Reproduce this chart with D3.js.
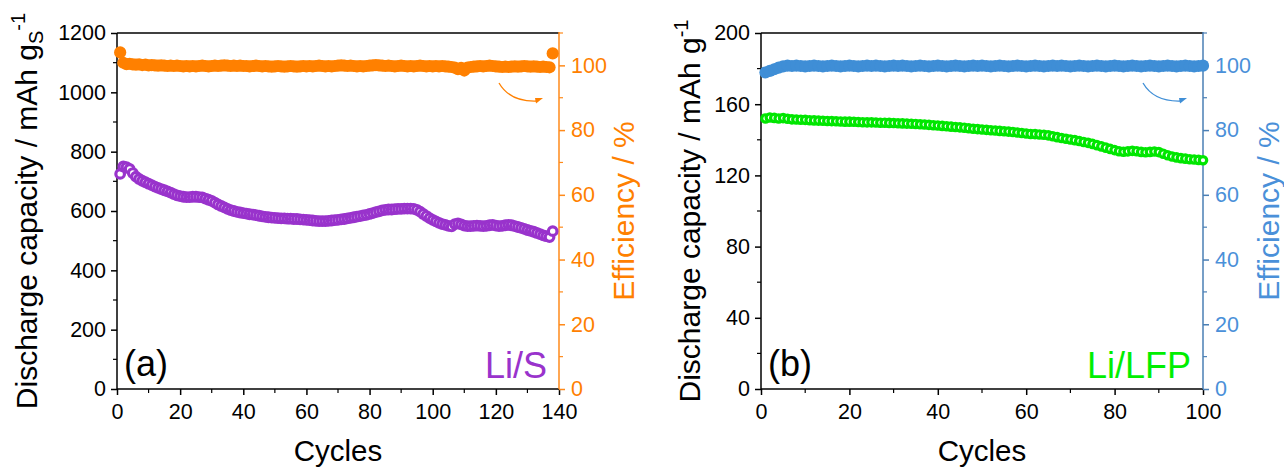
<!DOCTYPE html>
<html><head><meta charset="utf-8">
<script src="https://cdn.jsdelivr.net/npm/d3@7"></script>
<style>
html,body{margin:0;padding:0;background:#fff;}
svg{display:block;font-family:"Liberation Sans",Arial,sans-serif;}
</style></head>
<body><svg id="c" width="1284" height="468"></svg>
<script>
// ---- Data ----
const lisCapacity = [
725,750,748,742,728,716,708,702,697,692,
687,682,678,674,670,666,662,657,653,650,
648,647,647,648,648,647,646,642,638,634,
628,622,617,612,607,603,600,597,595,593,
591,589,588,586,584,582,580,579,578,577,
576,575,575,574,574,573,573,572,571,570,
569,568,567,566,566,566,567,568,569,570,
572,573,575,577,579,581,583,585,587,590,
593,596,599,602,604,605,605,606,607,607,
608,608,608,607,604,598,590,583,576,570,
565,560,556,553,550,548,556,558,555,551,
549,549,550,551,550,549,550,552,553,551,
549,550,552,553,552,549,546,543,540,536,
533,530,526,522,518,515,512,532];
const lisEfficiency = [
104.0,100.8,100.4,100.5,100.3,100.2,100.3,100.1,100.2,100.0,
100.1,100.0,99.9,100.0,99.9,99.8,99.9,99.8,99.9,99.8,
99.7,99.8,99.7,99.8,99.7,99.8,99.9,99.8,99.7,99.8,
99.9,99.8,99.9,100.0,99.9,99.8,99.9,99.8,99.9,99.8,
99.8,99.7,99.8,99.9,99.8,99.7,99.8,99.7,99.6,99.7,
99.8,99.7,99.6,99.7,99.8,99.7,99.6,99.7,99.8,99.7,
99.8,99.7,99.8,99.9,99.8,99.7,99.8,99.7,99.8,99.9,
100.0,99.9,99.8,99.9,99.8,99.7,99.8,99.7,99.8,99.9,
100.0,100.1,100.0,99.9,99.8,99.9,99.8,99.7,99.8,99.9,
99.8,99.7,99.8,99.7,99.8,99.9,99.8,99.7,99.8,99.7,
99.8,99.7,99.8,99.7,99.6,99.5,99.3,98.8,99.2,98.4,
99.3,99.5,99.6,99.7,99.8,99.7,99.8,99.9,99.8,99.7,
99.6,99.5,99.6,99.5,99.6,99.7,99.6,99.7,99.8,99.7,
99.6,99.7,99.6,99.5,99.6,99.5,99.4,103.7];
const lfpCapacity = [
152.0,152.5,152.3,152.0,152.2,151.8,151.5,151.4,151.3,151.2,
151.0,150.9,150.8,150.7,150.6,150.5,150.4,150.3,150.2,150.2,
150.1,150.0,149.9,149.8,149.8,149.7,149.6,149.6,149.5,149.4,
149.3,149.2,149.1,149.0,148.9,148.7,148.6,148.4,148.2,148.0,
147.8,147.6,147.4,147.2,147.0,146.8,146.5,146.2,146.0,145.8,
145.6,145.4,145.2,145.0,144.8,144.6,144.4,144.1,143.8,143.5,
143.3,143.2,143.0,142.8,142.5,142.0,141.5,141.0,140.6,140.2,
139.8,139.3,138.8,138.3,137.7,137.0,136.3,135.6,134.9,134.2,
133.6,133.3,133.5,133.8,133.6,133.2,133.0,133.2,133.4,133.1,
132.2,131.3,130.6,130.1,129.7,129.4,129.1,128.9,128.7,128.5];
const lfpEfficiency = [
97.8,98.3,98.8,99.3,99.7,99.9,99.8,99.9,99.8,99.7,
99.8,99.9,99.8,99.7,99.8,99.9,99.8,99.7,99.8,99.9,
99.8,99.7,99.8,99.9,99.8,99.9,99.8,99.7,99.8,99.9,
99.8,99.9,99.8,99.7,99.8,99.9,99.8,99.7,99.8,99.9,
99.8,99.7,99.8,99.9,99.8,99.7,99.8,99.9,99.8,99.9,
99.8,99.7,99.8,99.9,99.8,99.7,99.8,99.9,99.8,99.7,
99.8,99.9,99.8,99.7,99.8,99.9,99.8,99.9,99.8,99.7,
99.8,99.9,99.8,99.7,99.8,99.9,99.8,99.7,99.8,99.9,
99.8,99.7,99.8,99.9,99.8,99.7,99.8,99.9,99.8,99.7,
99.8,99.9,99.8,99.7,99.8,99.9,99.8,99.7,99.8,99.9];
const lisCycles = lisCapacity.map((d,i)=>i+1);
const lfpCycles = lfpCapacity.map((d,i)=>i+1);
const xTicksA = [0,20,40,60,80,100,120,140];
const yTicksA = [0,200,400,600,800,1000,1200];
const xTicksB = [0,20,40,60,80,100];
const yTicksB = [0,40,80,120,160,200];
const effTicks = [0,20,40,60,80,100];

const svg = d3.select("#c");
const FONT = '"Liberation Sans",Arial,sans-serif';

function panel(o){
  const g = svg.append("g");
  const x = d3.scaleLinear().domain(o.xDomain).range([o.left,o.right]);
  const y = d3.scaleLinear().domain(o.yDomain).range([o.bottom,o.top]);
  const y2 = d3.scaleLinear().domain([0,110]).range([o.bottom,o.top]);

  // top border
  g.append("line").attr("x1",o.left).attr("x2",o.right).attr("y1",o.top).attr("y2",o.top)
    .attr("stroke","#000").attr("stroke-width",1.5);

  // minor ticks
  const xMinor = d3.range(o.xDomain[0]+o.xMinorStep, o.xDomain[1], o.xMinorStep*2);
  g.selectAll(".xm").data(xMinor).enter().append("line")
    .attr("x1",d=>x(d)).attr("x2",d=>x(d)).attr("y1",o.bottom).attr("y2",o.bottom+4)
    .attr("stroke","#000").attr("stroke-width",1.2);
  const yMinor = d3.range(o.yDomain[0]+o.yMinorStep, o.yDomain[1], o.yMinorStep*2);
  g.selectAll(".ym").data(yMinor).enter().append("line")
    .attr("x1",o.left-4).attr("x2",o.left).attr("y1",d=>y(d)).attr("y2",d=>y(d))
    .attr("stroke","#000").attr("stroke-width",1.2);
  const eMinor = [10,30,50,70,90];
  g.selectAll(".em").data(eMinor).enter().append("line")
    .attr("x1",o.right).attr("x2",o.right+4).attr("y1",d=>y2(d)).attr("y2",d=>y2(d))
    .attr("stroke",o.effAxis).attr("stroke-width",1.2);
  g.append("line").attr("x1",o.right).attr("x2",o.right+4).attr("y1",y2(110)).attr("y2",y2(110))
    .attr("stroke",o.effAxis).attr("stroke-width",1.2);

  // axes
  const xa = g.append("g").attr("transform",`translate(0,${o.bottom})`)
    .call(d3.axisBottom(x).tickValues(o.xTicks).tickSize(6).tickPadding(9).tickFormat(d3.format("d")));
  const ya = g.append("g").attr("transform",`translate(${o.left},0)`)
    .call(d3.axisLeft(y).tickValues(o.yTicks).tickSize(6).tickPadding(5).tickFormat(d3.format("d")));
  const ea = g.append("g").attr("transform",`translate(${o.right},0)`)
    .call(d3.axisRight(y2).tickValues(effTicks).tickSize(6).tickPadding(6).tickFormat(d3.format("d")));
  [xa,ya].forEach(a=>{
    a.select(".domain").attr("stroke","#000").attr("stroke-width",1.5);
    a.selectAll(".tick line").attr("stroke","#000").attr("stroke-width",1.5);
    a.selectAll("text").attr("fill","#000").style("font-family",FONT).style("font-size","21.5px");
  });
  ya.select(".domain").attr("d",`M0,${o.bottom}V${o.top}`);
  xa.select(".domain").attr("d",`M0,0H${o.right-o.left}`).attr("transform",`translate(${o.left},0)`);
  ea.select(".domain").attr("stroke",o.effAxis).attr("stroke-width",1.5).attr("d",`M0,${o.bottom}V${o.top-1}`);
  ea.selectAll(".tick line").attr("stroke",o.effAxis).attr("stroke-width",1.5);
  ea.selectAll("text").attr("fill",o.effText).style("font-family",FONT).style("font-size","21.5px");

  // efficiency markers
  g.append("g").selectAll("circle").data(o.eff).enter().append("circle")
    .attr("cx",(d,i)=>x(o.cycles[i])).attr("cy",d=>y2(d)).attr("r",6.1)
    .attr("fill",o.effColor);
  // capacity markers
  g.append("g").selectAll("circle").data(o.cap).enter().append("circle")
    .attr("cx",(d,i)=>x(o.cycles[i])).attr("cy",d=>y(d)).attr("r",o.capR)
    .attr("fill","#fff").attr("stroke",o.capColor).attr("stroke-width",3.2);

  // curved arrow
  const ax0 = o.arrow[0], ay0 = o.arrow[1], ax1 = o.arrow[2], ay1 = o.arrow[3];
  g.append("path").attr("d",`M${ax0},${ay0} Q${ax0+11},${ay1+1} ${ax1-6},${ay1}`)
    .attr("fill","none").attr("stroke",o.effColor).attr("stroke-width",1.3);
  g.append("path").attr("d",`M${ax1},${ay1-3} L${ax1-8},${ay1-3} L${ax1-7},${ay1+2.5} Z`)
    .attr("fill",o.effColor);

  // titles
  g.append("text").attr("x",(o.left+o.right)/2).attr("y",461).attr("text-anchor","middle")
    .style("font-family",FONT).style("font-size","29.5px").attr("fill","#000").text("Cycles");
  const lt = g.append("text").attr("transform",`translate(${o.ltX},${(o.top+o.bottom)/2}) rotate(-90)`)
    .attr("text-anchor","middle").style("font-family",FONT).style("font-size","30px").attr("fill","#000");
  lt.append("tspan").text("Discharge capacity / mAh g");
  if(o.sub){
    lt.append("tspan").attr("dy",6).style("font-size","20px").text(o.sub);
    lt.append("tspan").attr("dy",-18).style("font-size","20px").text("-1");
  } else {
    lt.append("tspan").attr("dy",-12).style("font-size","20px").text("-1");
  }
  g.append("text").attr("transform",`translate(${o.rtX},${(o.top+o.bottom)/2}) rotate(-90)`)
    .attr("text-anchor","middle").style("font-family",FONT).style("font-size","30px")
    .attr("fill",o.effText).text("Efficiency / %");
  g.append("text").attr("x",o.left+7).attr("y",376).style("font-family",FONT).style("font-size","36px")
    .attr("fill","#000").text(o.label);
  g.append("text").attr("x",o.right-12).attr("y",378).attr("text-anchor","end")
    .style("font-family",FONT).style("font-size","36px").attr("fill",o.nameColor).text(o.name);
}

panel({left:117,right:559,top:33,bottom:389,xDomain:[0,140],yDomain:[0,1200],
  xTicks:xTicksA,yTicks:yTicksA,xMinorStep:10,yMinorStep:100,
  cycles:lisCycles,cap:lisCapacity,eff:lisEfficiency,capR:4.3,
  capColor:"#9933CC",effColor:"#FF8000",effAxis:"#FF8A1A",effText:"#FF8000",nameColor:"#9933CC",
  ltX:37,rtX:634,sub:"S",label:"(a)",name:"Li/S",arrow:[499,83,543,101]});
panel({left:761,right:1203,top:33,bottom:389,xDomain:[0,100],yDomain:[0,200],
  xTicks:xTicksB,yTicks:yTicksB,xMinorStep:10,yMinorStep:20,
  cycles:lfpCycles,cap:lfpCapacity,eff:lfpEfficiency,capR:3.7,
  capColor:"#00E600",effColor:"#3F8ED6",effAxis:"#4A7FB5",effText:"#4A90D9",nameColor:"#00EE00",
  ltX:700,rtX:1279,sub:null,label:"(b)",name:"Li/LFP",arrow:[1143,83,1187,101]});
</script></body></html>
